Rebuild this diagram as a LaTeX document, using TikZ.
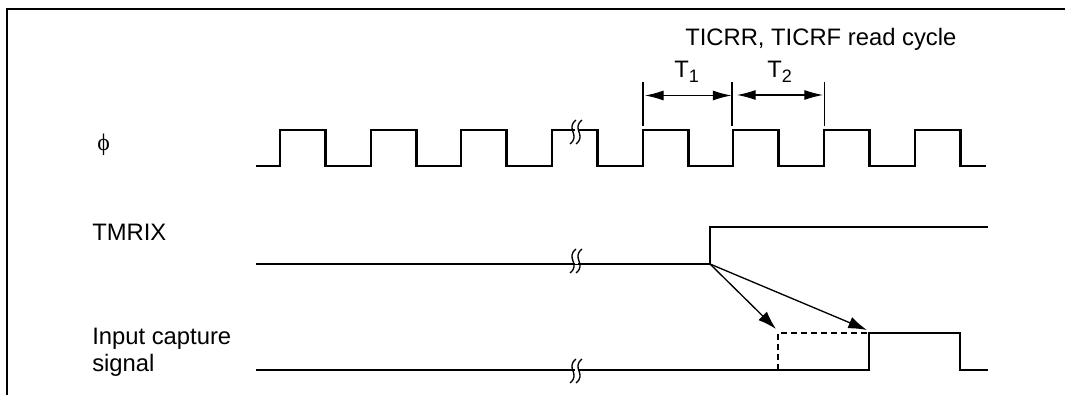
\documentclass[tikz,border=0pt]{standalone}
\usepackage{fontspec}
\setmainfont{Liberation Sans}
\newfontfamily\phifont{Liberation Serif}
\usetikzlibrary{arrows.meta}
\newcommand{\subnum}[1]{\raisebox{-3.6pt}{\fontsize{13.5pt}{15pt}\selectfont #1}}
\begin{document}
\begin{tikzpicture}[x=0.75pt,y=-0.75pt]
  \tikzset{
    sig/.style={line width=2.2pt,line join=miter},
    dotsig/.style={line width=2.2pt,dash pattern=on 4.5pt off 3pt},
    lbl/.style={anchor=base west,inner sep=0pt,font=\fontsize{17.85pt}{21pt}\selectfont},
    tick/.style={line width=0.8pt},
    span/.style={line width=0.8pt,{Latex[length=14pt,width=7.5pt]}-{Latex[length=14pt,width=7.5pt]}},
    trig/.style={line width=1pt,-{Latex[length=14pt,width=9pt]}},
    brk/.style={line width=1pt}
  }
  \useasboundingbox (0,0) rectangle (1065,395);
  % frame
  \draw[line width=2.2pt] (7,395) -- (7,9) -- (1065,9);

  \node[lbl] (phi) at (97,151) {\phifont ϕ};
  \node[lbl] (tmrix) at (92,240.5) {TMRIX};
  \node[lbl] (capa) at (92,345) {Input capture};
  \node[lbl] (capb) at (92,371.5) {signal};

  % clock
  \draw[sig] (256,166)
    \foreach \x in {280,371,461,552,643,733,824,915} {
      -- (\x,166) -- (\x,130) -- (\x+45.5,130) -- (\x+45.5,166)
    } -- (986,166);

  % other two signals
  \draw[sig] (256,264) -- (710,264) -- (710,227) -- (988,227);
  \coordinate (edge) at (710,264);
  \draw[sig] (256,370) -- (869,370) -- (869,333) -- (960,333) -- (960,370) -- (988,370);
  \draw[dotsig] (778,370) -- (778,333) -- (869,333);
  \coordinate (early) at (776,329);
  \coordinate (late) at (867,330);
  \draw[trig] (edge) -- (early);
  \draw[trig] (edge) -- (late);

  % breaks
  \foreach \y in {132,261,371} {
    \fill[white] (574.5,\y-3) rectangle (577.5,\y+3);
    \foreach \x in {573,579} {
      \draw[brk] (\x+3,\y-12) .. controls (\x-8,\y-3) and (\x+8,\y+3) .. (\x-3,\y+12);
    }
  }

  % read cycle
  \foreach \x/\n in {643/ta,732/tb,824.5/tc} {
    \coordinate (\n top) at (\x,82);
    \coordinate (\n bot) at (\x,126);
    \draw[tick] (\n top) -- (\n bot);
  }
  \coordinate (ta arr) at (645,95.5);
  \coordinate (tb arrl) at (731.5,95.5);
  \coordinate (tb arrr) at (737,95);
  \coordinate (tc arr) at (823,95);
  \draw[span] (ta arr) -- (tb arrl);
  \draw[span] (tb arrr) -- (tc arr);
  \node[lbl] (tone) at (674,77.5) {T\subnum{1}};
  \node[lbl] (ttwo) at (767,77.5) {T\subnum{2}};
  \node[lbl] (rd) at (685,46) {TICRR, TICRF read cycle};
\end{tikzpicture}
\end{document}
